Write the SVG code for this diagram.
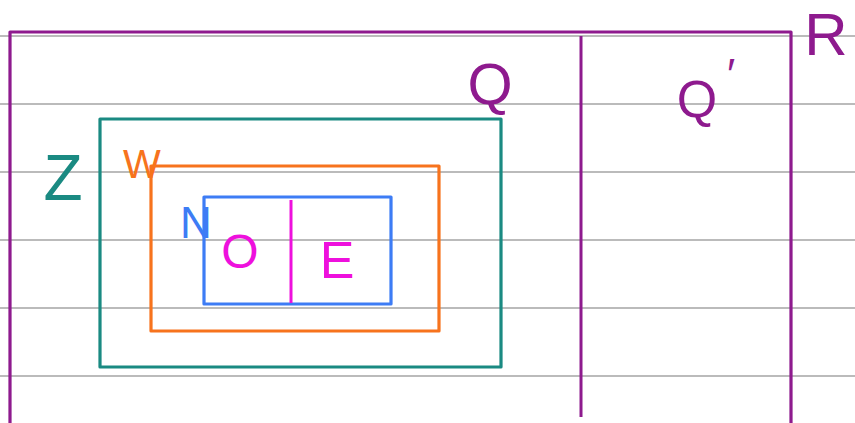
<svg xmlns="http://www.w3.org/2000/svg" width="855" height="423" viewBox="0 0 855 423">
<style>
.rule{stroke:#a4a4a4;stroke-width:1.4}
.box{fill:none;stroke-width:3.2;stroke-linejoin:round}
.lbl{font-family:"Liberation Sans",Arial,sans-serif;text-anchor:middle}
.purple{stroke:#8e1a8e}
.tp{fill:#8e1a8e}
</style>
<rect width="855" height="423" fill="#ffffff"/>
<g id="ruling">
<line class="rule" x1="0" y1="36" x2="855" y2="36"/>
<line class="rule" x1="0" y1="104" x2="855" y2="104"/>
<line class="rule" x1="0" y1="172" x2="855" y2="172"/>
<line class="rule" x1="0" y1="240" x2="855" y2="240"/>
<line class="rule" x1="0" y1="308" x2="855" y2="308"/>
<line class="rule" x1="0" y1="376" x2="855" y2="376"/>
</g>
<g id="R">
<polyline class="box purple" points="10,430 10,32 791,32 791,430"/>
<text class="lbl tp" x="826" y="55" font-size="60">R</text>
</g>
<g id="Q">
<text class="lbl tp" x="490" y="104" font-size="58">Q</text>
</g>
<g id="Qprime">
<text class="lbl tp" x="697" y="117" font-size="52">Q</text>
<text class="lbl tp" x="731" y="90" font-size="44">′</text>
</g>
<g id="Z">
<rect class="box" x="100" y="119" width="401" height="248" stroke="#1a8a82"/>
<text class="lbl" x="63" y="200" font-size="64" fill="#1a8a82">Z</text>
</g>
<g id="W">
<rect class="box" x="151" y="166" width="288" height="165" stroke="#f7731d"/>
<text class="lbl" x="142" y="178" font-size="40" fill="#f7731d">W</text>
</g>
<g id="N">
<rect class="box" x="204" y="197" width="187" height="107" stroke="#3d7cf5"/>
<text class="lbl" x="196" y="238" font-size="44" fill="#3d7cf5">N</text>
</g>
<g id="O">
<text class="lbl" x="240" y="268" font-size="48" fill="#ee10dd">O</text>
</g>
<g id="E">
<text class="lbl" x="337" y="278" font-size="52" fill="#ee10dd">E</text>
</g>
<g id="connectors">
<line x1="581" y1="36" x2="581" y2="417" stroke="#8e1a8e" stroke-width="3"/>
<line x1="291" y1="200" x2="291" y2="303" stroke="#ee10dd" stroke-width="3"/>
</g>
</svg>
